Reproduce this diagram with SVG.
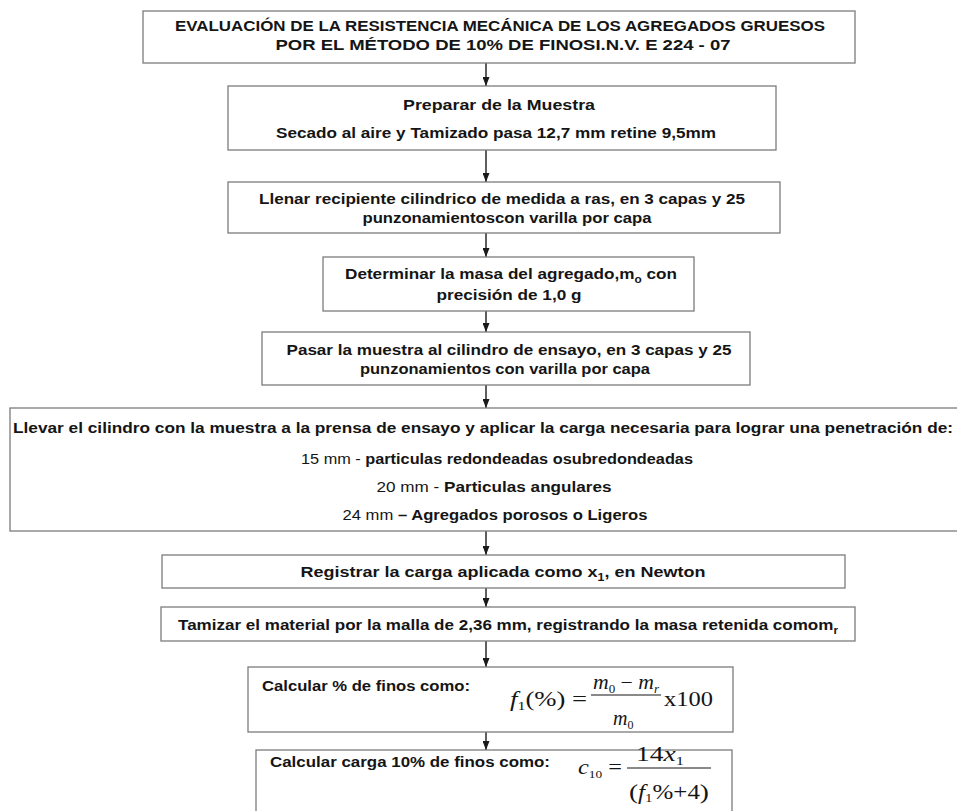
<svg xmlns="http://www.w3.org/2000/svg" width="957" height="811" viewBox="0 0 957 811">
<defs>
<style>
.box{fill:#fff;stroke:#7c7c7c;stroke-width:1.3}
.t{font-family:"Liberation Sans",Arial,sans-serif;font-weight:bold;font-size:14.5px;fill:#151515;text-anchor:middle}
.s{text-anchor:start}
.r{font-weight:normal}
.m{font-family:"Liberation Serif","Times New Roman",serif;font-size:20px;fill:#151515}
.i{font-style:italic}
.conn line{stroke:#1a1a1a;stroke-width:1.4;marker-end:url(#ah)}
</style>
<marker id="ah" viewBox="0 0 9 7" markerWidth="9" markerHeight="7" refX="9" refY="3.5" orient="auto" markerUnits="userSpaceOnUse">
<path d="M0,0 L9,3.5 L0,7 z" fill="#1a1a1a"/>
</marker>
</defs>
<rect width="957" height="811" fill="#fff"/>

<g id="connectors" class="conn">
<line x1="486" y1="63" x2="486" y2="86"/>
<line x1="486" y1="150" x2="486" y2="182"/>
<line x1="486" y1="222" x2="486" y2="257"/>
<line x1="486" y1="311" x2="486" y2="332"/>
<line x1="486" y1="372" x2="486" y2="408"/>
<line x1="486" y1="531" x2="486" y2="555"/>
<line x1="486" y1="588" x2="486" y2="607"/>
<line x1="486" y1="641" x2="486" y2="667"/>
<line x1="486" y1="732" x2="486" y2="750"/>
</g>

<g id="n1">
<rect class="box" x="143" y="11" width="712" height="52"/>
<text class="t" x="500" y="31" textLength="650" lengthAdjust="spacingAndGlyphs">EVALUACIÓN DE LA RESISTENCIA MECÁNICA DE LOS AGREGADOS GRUESOS</text>
<text class="t" x="503" y="50" textLength="455" lengthAdjust="spacingAndGlyphs">POR EL MÉTODO DE 10% DE FINOSI.N.V. E 224 - 07</text>
</g>

<g id="n2">
<rect class="box" x="228" y="86" width="548" height="64"/>
<text class="t" x="499" y="110" textLength="192" lengthAdjust="spacingAndGlyphs">Preparar de la Muestra</text>
<text class="t" x="496" y="138" textLength="440" lengthAdjust="spacingAndGlyphs">Secado al aire y Tamizado pasa 12,7 mm retine 9,5mm</text>
</g>

<g id="n3">
<rect class="box" x="228" y="182" width="552" height="51"/>
<text class="t" x="502" y="204" textLength="486" lengthAdjust="spacingAndGlyphs">Llenar recipiente cilindrico de medida a ras, en 3 capas y 25</text>
<text class="t" x="507" y="223" textLength="289" lengthAdjust="spacingAndGlyphs">punzonamientoscon varilla por capa</text>
</g>

<g id="n4">
<rect class="box" x="323" y="257" width="371" height="54"/>
<text class="t" x="511" y="279" textLength="332" lengthAdjust="spacingAndGlyphs">Determinar la masa del agregado,m<tspan font-size="10" dy="4">o</tspan><tspan dy="-4"> con</tspan></text>
<text class="t" x="509" y="300" textLength="145" lengthAdjust="spacingAndGlyphs">precisión de 1,0 g</text>
</g>

<g id="n5">
<rect class="box" x="262" y="332" width="488" height="53"/>
<text class="t" x="509" y="355" textLength="445" lengthAdjust="spacingAndGlyphs">Pasar la muestra al cilindro de ensayo, en 3 capas y 25</text>
<text class="t" x="505" y="374" textLength="290" lengthAdjust="spacingAndGlyphs">punzonamientos con varilla por capa</text>
</g>

<g id="n6">
<rect class="box" x="10" y="408" width="955" height="123"/>
<text class="t" x="483" y="433" textLength="940" lengthAdjust="spacingAndGlyphs">Llevar el cilindro con la muestra a la prensa de ensayo y aplicar la carga necesaria para lograr una penetración de:</text>
<text class="t" x="497" y="464" textLength="392" lengthAdjust="spacingAndGlyphs"><tspan class="r">15 mm - </tspan>particulas redondeadas osubredondeadas</text>
<text class="t" x="494" y="492" textLength="235" lengthAdjust="spacingAndGlyphs"><tspan class="r">20 mm - </tspan>Particulas angulares</text>
<text class="t" x="495" y="520" textLength="305" lengthAdjust="spacingAndGlyphs"><tspan class="r">24 mm </tspan>– Agregados porosos o Ligeros</text>
</g>

<g id="n7">
<rect class="box" x="162" y="555" width="683" height="33"/>
<text class="t" x="503" y="577" textLength="405" lengthAdjust="spacingAndGlyphs">Registrar la carga aplicada como x<tspan font-size="10" dy="4">1</tspan><tspan dy="-4">, en Newton</tspan></text>
</g>

<g id="n8">
<rect class="box" x="161" y="607" width="694" height="34"/>
<text class="t" x="508" y="630" textLength="660" lengthAdjust="spacingAndGlyphs">Tamizar el material por la malla de 2,36 mm, registrando la masa retenida comom<tspan font-size="10" dy="4">r</tspan></text>
</g>

<g id="n9">
<rect class="box" x="248" y="667" width="485" height="65"/>
<text class="t s" x="262" y="691" textLength="208" lengthAdjust="spacingAndGlyphs">Calcular % de finos como:</text>
<text class="m" x="510" y="706" textLength="77" lengthAdjust="spacingAndGlyphs"><tspan class="i">f</tspan><tspan font-size="12" dy="4">1</tspan><tspan dy="-4">(%) =</tspan></text>
<text class="m" x="593" y="689" textLength="66" lengthAdjust="spacingAndGlyphs"><tspan class="i">m</tspan><tspan font-size="12" dy="4">0</tspan><tspan dy="-4"> − </tspan><tspan class="i">m</tspan><tspan class="i" font-size="12" dy="4">r</tspan></text>
<line x1="591" y1="695" x2="661" y2="695" stroke="#151515" stroke-width="1"/>
<text class="m" x="613" y="725"><tspan class="i">m</tspan><tspan font-size="12" dy="4">0</tspan></text>
<text class="m" x="664" y="706" textLength="49" lengthAdjust="spacingAndGlyphs">x100</text>
</g>

<g id="n10">
<rect class="box" x="256" y="750" width="476" height="70"/>
<text class="t s" x="270" y="767" textLength="280" lengthAdjust="spacingAndGlyphs">Calcular carga 10% de finos como:</text>
<text class="m" x="578" y="774" textLength="44" lengthAdjust="spacingAndGlyphs"><tspan class="i">c</tspan><tspan font-size="11" dy="4">10</tspan><tspan dy="-4"> =</tspan></text>
<text class="m" x="636" y="761" textLength="48" lengthAdjust="spacingAndGlyphs">14<tspan class="i">x</tspan><tspan font-size="12" dy="4">1</tspan></text>
<line x1="627" y1="768" x2="711" y2="768" stroke="#151515" stroke-width="1"/>
<text class="m" x="629" y="799" textLength="80" lengthAdjust="spacingAndGlyphs"><tspan font-size="22">(</tspan><tspan class="i">f</tspan><tspan font-size="12" dy="3">1</tspan><tspan dy="-3">%+4</tspan><tspan font-size="22">)</tspan></text>
</g>
</svg>
